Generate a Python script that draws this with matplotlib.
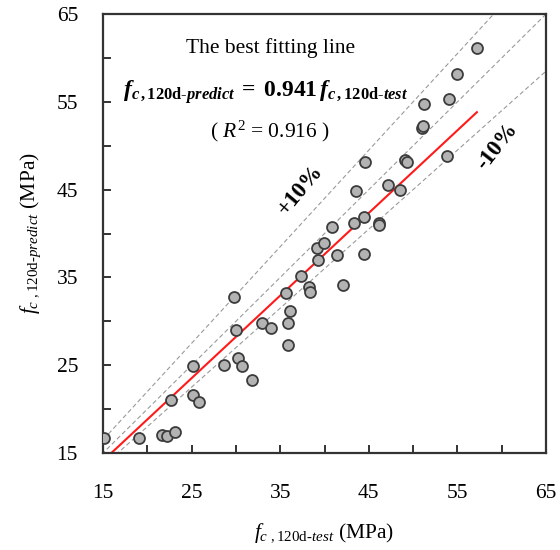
import numpy as np
import matplotlib
matplotlib.use("Agg")
import matplotlib.pyplot as plt
from matplotlib.ticker import MultipleLocator

plt.rcParams["font.family"] = ["Liberation Serif", "DejaVu Serif"]
plt.rcParams["mathtext.fontset"] = "custom"
plt.rcParams["mathtext.rm"] = "Liberation Serif"
plt.rcParams["mathtext.it"] = "Liberation Serif:italic"
plt.rcParams["mathtext.bf"] = "Liberation Serif:bold"
plt.rcParams["mathtext.bfit"] = "Liberation Serif:bold:italic"

# Measured 120-day compressive strength vs. model prediction (MPa)
f_test = [15.1, 19.1, 21.7, 22.2, 23.1, 22.7, 25.1, 25.2, 25.8, 28.6,
          29.8, 30.0, 30.2, 30.7, 31.8, 32.9, 34.0, 35.7, 36.1, 35.9,
          35.9, 37.3, 38.2, 38.4, 42.1, 39.1, 39.3, 39.9, 41.4, 40.8,
          43.3, 44.4, 44.4, 43.6, 44.6, 46.1, 46.2, 47.2, 48.5, 49.1,
          49.3, 51.0, 51.1, 51.2, 53.8, 54.1, 54.9, 57.2]
f_pred = [16.7, 16.7, 17.05, 16.9, 17.4, 21.0, 24.9, 21.6, 20.8, 25.0,
          32.8, 29.0, 25.8, 24.9, 23.3, 29.8, 29.2, 33.2, 31.2, 29.8,
          27.3, 35.2, 33.9, 33.3, 34.1, 38.3, 37.0, 38.9, 37.55, 40.8,
          41.2, 41.9, 37.7, 44.8, 48.2, 41.2, 41.0, 45.5, 45.0, 48.4,
          48.2, 52.0, 52.2, 54.7, 48.8, 55.3, 58.2, 61.1]

fit_slope = 0.941
r_squared = 0.916
band_factors = [1.1, 1.0, 0.9]

axis_min, axis_max = 15, 65
tick_labels = [15, 25, 35, 45, 55, 65]

fig = plt.figure(figsize=(5.6, 5.5), dpi=100)
ax = fig.add_axes([0.184, 0.1764, 0.791, 0.798])

# reference lines: +10 %, 1:1 and -10 %
xr = np.array([0.0, 80.0])
for k in band_factors:
    ax.plot(xr, k * xr, color="#9a9a9a", lw=0.8, ls=(0, (4, 2.5)), zorder=1)

# best fitting line through the origin
x_fit = np.array([axis_min / fit_slope, max(f_test)])
ax.plot(x_fit, fit_slope * x_fit, color="#ff1a1a", lw=1.5, zorder=2)

ax.scatter(f_test, f_pred, s=62, facecolor="#b3b3b3", edgecolor="#3c3c3c",
           linewidth=1.3, zorder=3)

ax.set_xlim(axis_min, axis_max)
ax.set_ylim(axis_min, axis_max)
ax.set_xticks(tick_labels)
ax.set_yticks(tick_labels)
ax.xaxis.set_minor_locator(MultipleLocator(5))
ax.yaxis.set_minor_locator(MultipleLocator(5))
for a in (ax.xaxis, ax.yaxis):
    a.set_tick_params(which="both", direction="in", length=6, width=1.4,
                      color="#333333")
ax.tick_params(axis="x", which="major", pad=22, labelsize=15.5)
ax.tick_params(axis="y", which="major", pad=18, labelsize=15.5)
ax.tick_params(top=False, right=False, which="both")
for s in ax.spines.values():
    s.set_linewidth(1.6)
    s.set_color("#333333")

ax.set_xlabel(r"$f_{c\ \mathrm{,120d\text{-}}test}$ (MPa)", fontsize=15.5, labelpad=14)
ax.set_ylabel(r"$f_{c\ \mathrm{,120d\text{-}}predict}$ (MPa)", fontsize=15.5, labelpad=10)

ax.text(0.379, 0.922, "The best fitting line", transform=ax.transAxes,
        ha="center", va="center", fontsize=15.5)
ax.text(0.368, 0.822,
        r"$\mathbfit{f}_{\mathbfit{c}\,\mathbf{,120d\text{-}}\mathbfit{predict}}"
        r"\;\mathbf{=}\;\mathbf{%.3f}\,\mathbfit{f}_{\mathbfit{c}\,\mathbf{,120d\text{-}}\mathbfit{test}}$"
        % fit_slope,
        transform=ax.transAxes, ha="center", va="center", fontsize=17)
ax.text(0.376, 0.733, r"( $R^2$ = %.3f )" % r_squared, transform=ax.transAxes,
        ha="center", va="center", fontsize=15.5)

ax.text(0.445, 0.599, "+10%", transform=ax.transAxes, ha="center", va="center",
        fontsize=16.5, fontweight="bold", rotation=50)
ax.text(0.889, 0.697, "-10%", transform=ax.transAxes, ha="center", va="center",
        fontsize=16.5, fontweight="bold", rotation=52)

fig.savefig("out.png", dpi=100)
